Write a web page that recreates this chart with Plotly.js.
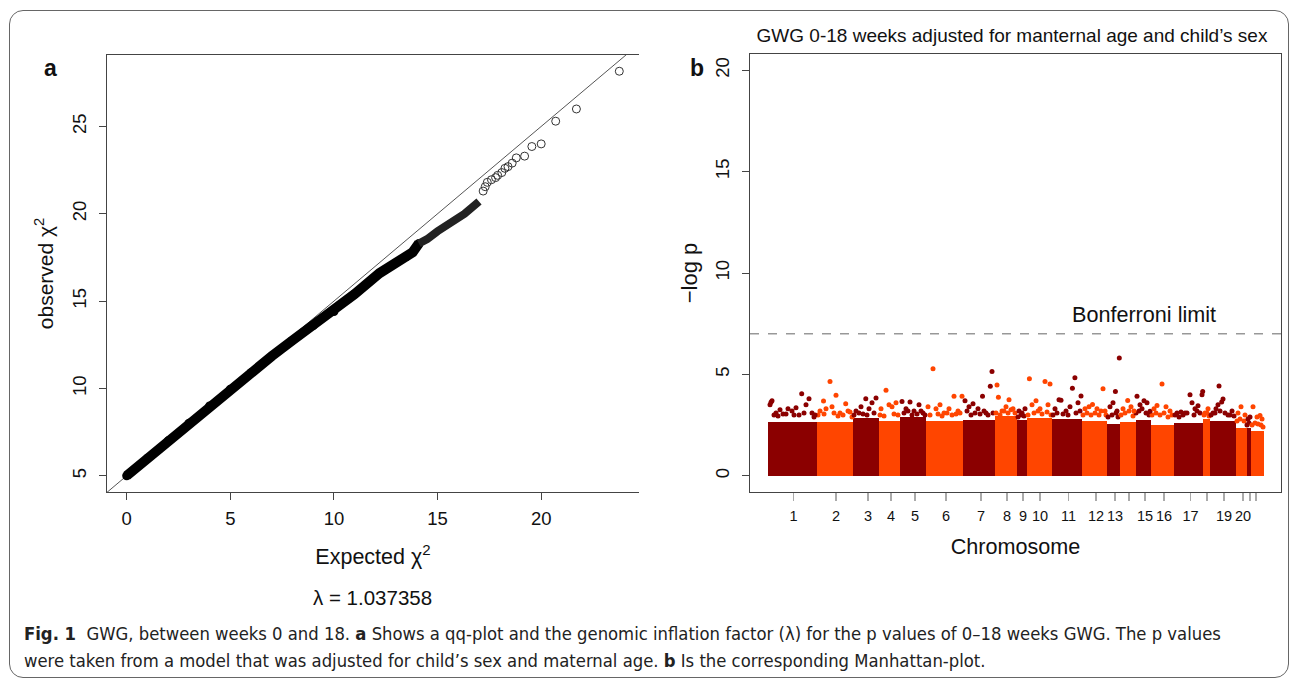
<!DOCTYPE html>
<html>
<head>
<meta charset="utf-8">
<script src="https://cdn.plot.ly/plotly-3.0.1.min.js"></script>
<style>
html,body{margin:0;padding:0;background:#fff;}
#wrap{position:relative;width:1292px;height:679px;overflow:hidden;}
#chart{position:absolute;left:0;top:0;width:1292px;height:679px;}
#frame{position:absolute;left:9px;top:10px;width:1280px;height:668px;border:1.3px solid #666;border-radius:14px;box-sizing:border-box;pointer-events:none;}
</style>
</head>
<body>
<div id="wrap"><div id="chart"></div><div id="frame"></div></div>
<script>
// ---------- Panel a: QQ plot ----------
const bandX = [0, 1, 2, 3, 4, 5, 6, 7, 8, 9, 10, 11, 12.2, 13, 13.5, 13.8, 14.1];
const bandY = [5.0, 6.0, 7.0, 8.0, 9.0, 9.95, 10.9, 11.85, 12.75, 13.6, 14.4, 15.4, 16.6, 17.2, 17.55, 17.8, 18.3];
const band2X = [14.1, 14.5, 15, 15.7, 16.3, 17.0];
const band2Y = [18.3, 18.55, 19.0, 19.5, 20.0, 20.7];
const tailX = [17.2, 17.3, 17.4, 17.6, 17.8, 17.9, 18.1, 18.25, 18.4, 18.6, 18.8, 19.2, 19.55, 20.0, 20.7, 21.7, 23.77];
const tailY = [21.3, 21.55, 21.8, 21.95, 22.07, 22.2, 22.36, 22.6, 22.7, 22.9, 23.2, 23.3, 23.85, 24.0, 25.3, 26.0, 28.16];
const refLineX = [-2, 26];
const refLineY = [3, 31];
const qqTicksX = [0, 5, 10, 15, 20];
const qqTicksY = [5, 10, 15, 20, 25];
const lambdaText = "λ = 1.037358";

// ---------- Panel b: Manhattan plot ----------
const chrNames = ['1','2','3','4','5','6','7','8','9','10','11','12','13','14','15','16','17','18','19','20','21','22'];
const chrStart = [0,49,85,110.5,132,158,195,226.5,248.7,258.6,284,314,339,352,367.5,383,406,435,442,468,478.5,483];
const chrEnd   = [49,85,110.5,132,158,195,226.5,248.7,258.6,284,314,339,352,367.5,383,406,435,442,468,478.5,483,495.5];
const chrTickPos = [25.6,68,100,123,147,178,213,239,255,272,300.5,328,347,377,396,422.5,456,475];
const chrTickText = ['1','2','3','4','5','6','7','8','9','10','11','12','13','15','16','17','19','20'];
const chrUnlabeledTicks = [361, 439, 482, 488];
const blockTop = [2.67,2.67,2.85,2.72,2.9,2.69,2.76,2.95,2.76,2.85,2.8,2.72,2.57,2.67,2.76,2.5,2.62,2.8,2.69,2.35,2.35,2.2];
// top SNPs
const snpChr = [
 1,1,1,1,1,1,1,1,1,1,1,1,1,1,1,
 2,2,2,2,2,2,2,2,2,
 3,3,3,3,3,3,
 4,4,4,4,4,
 5,5,5,5,5,5,
 6,6,6,6,6,6,6,6,6,
 7,7,7,7,7,7,7,7,
 8,8,8,8,8,8,
 9,9,9,
 10,10,10,10,10,10,10,
 11,11,11,11,11,11,11,11,11,
 12,12,12,12,12,12,
 13,13,13,13,13,
 14,14,14,14,
 15,15,15,15,15,
 16,16,16,16,16,
 17,17,17,17,17,17,17,17,17,
 18,18,
 19,19,19,19,19,19,19,19,
 20,20,20,
 21,21,
 22,22,22,22];
const snpPos = [
 2,3,4,8,12,15,20,24,28,31,33.7,38,41,44,47,
 52,55.5,58,62,64,68,72,77.7,82,
 88,93,97.8,101,104,108,
 113,118,121,124,128,
 134,138,142,146,151,155,
 160,165,168,172,176,181,186,190,194,
 197,201,205,210,214.5,218,222.3,224,
 229,230.4,234,238,241,245,
 251,254,257,
 261.4,264,268,272,277,280,282,
 287,291,293,298,302,304.4,306.9,310,313,
 317,321,324.5,329,335,337,
 342,345,347.4,349,351.3,
 355,359.7,363,366,
 369,372,376,379,382,
 386,389,394,398,402,
 409,413,417,422,424,427,430,434,434.7,
 437,440,
 445,448,450,451,453.7,455,460,464,
 470,473,477,
 480,482,
 485,489,492,494];
const snpLogP = [
 3.5,3.62,3.7,3.1,3.25,3.05,3.3,3.2,3.35,3.0,4.04,3.5,3.8,3.1,3.0,
 3.2,3.69,3.3,4.65,3.4,3.97,3.1,3.55,3.15,
 3.2,3.4,3.8,3.3,3.6,3.83,
 3.3,4.22,3.5,3.4,3.6,
 3.66,3.3,3.64,3.2,3.5,3.1,
 3.4,5.28,3.3,3.5,3.1,3.3,3.92,3.2,3.92,
 3.7,3.4,3.55,3.3,3.92,3.1,4.41,5.14,
 4.48,3.87,3.2,3.4,3.75,3.3,
 3.2,3.1,3.3,
 4.79,3.5,3.7,3.3,4.65,3.5,4.53,
 3.3,3.75,3.73,3.2,3.4,4.32,4.83,3.6,3.94,
 3.3,3.4,3.52,3.3,4.29,3.2,
 3.4,3.6,4.16,3.2,5.81,
 3.3,3.71,3.4,3.2,
 3.92,3.5,3.7,3.6,3.18,
 3.3,3.47,4.53,3.4,3.2,
 3.1,3.15,3.1,4.0,3.6,3.3,3.45,4.0,4.15,
 3.1,3.3,
 3.1,3.3,3.5,4.43,3.64,3.79,3.0,3.2,
 3.1,3.41,3.0,
 2.8,2.9,
 3.4,2.9,2.97,2.8];
// SNPs in the dense fringe just above each block
const fringeChr = [
 1,1,1,1,1,1, 2,2,2,2,2,2,2, 3,3,3,3,3, 4,4,4,4, 5,5,5,5,5,5, 6,6,6,6,6,6,6,
 7,7,7,7,7,7,7, 8,8,8,8,8,8, 9,9,9, 10,10,10,10,10,10, 11,11,11,11,11,11,
 12,12,12,12,12,12,12, 13,13,13,13, 14,14,14,14, 15,15,15,15,15, 16,16,16,16,16,16,
 17,17,17,17,17,17,17, 18,18,18, 19,19,19,19,19,19, 20,20,20, 21,21, 22,22,22,22,22];
const fringePos = [
 6,10,18,26,36,46, 50,56,66,70,75,80,84, 86,91,95,99,106, 112,116,126,130, 136,140,144,149,153,157,
 162,170,174,179,184,188,192, 199,203,207,212,216,220,225, 228,232,236,240,243,247, 250,253,256,
 260,266,270,274,279,283, 285,289,295,300,308,312, 315,319,323,327,331,333,338, 340,344,348,350,
 353,357,361,365, 368,371,374,378,381, 384,388,392,396,400,404, 407,411,415,419,426,429,432,
 436,439,441, 443,447,452,457,462,466, 469,472,476, 479,481, 484,487,490,493,495];
const fringeLogP = [
 3.0,2.95,3.05,3.0,3.1,2.9, 3.0,3.05,3.1,2.95,3.0,3.2,2.9, 3.0,3.1,3.05,3.0,3.1, 3.0,2.95,3.05,3.0,
 3.1,3.2,3.0,3.05,3.2,3.0, 3.0,3.05,2.95,3.1,3.0,3.05,3.1, 3.2,3.0,3.1,3.05,3.2,3.0,3.1,
 3.1,3.0,3.2,3.1,3.25,3.1, 2.9,3.0,2.95, 3.0,3.1,3.2,3.05,3.15,3.0, 3.0,3.1,3.05,3.0,3.1,3.2,
 3.0,3.1,3.0,3.1,3.0,3.2,3.0, 2.9,3.0,3.1,2.9, 3.0,3.1,3.2,2.95, 3.1,3.2,3.3,3.1,3.0,
 3.0,3.1,3.0,3.1,2.9,3.0, 3.0,2.9,3.0,3.1,3.0,3.2,3.1, 3.0,3.1,2.95, 3.0,3.1,3.2,3.1,3.0,2.95,
 2.7,2.8,2.7, 2.5,2.6, 2.5,2.6,2.55,2.5,2.4];
const bonferroni = 7.0;
const manTicksY = [0, 5, 10, 15, 20];

const DARK = '#8B0000', ORANGE = '#FF4500';
const chrColor = i => (i % 2 === 0 ? DARK : ORANGE);

const W = 1292, H = 679;
const px = v => v / W, py = v => 1 - v / H;
const FONT = '"Liberation Sans", Arial, Helvetica, sans-serif';
const CAPFONT = '"Liberation Sans Narrow", "DejaVu Sans Condensed", "Liberation Sans", sans-serif';

const traces = [
  {x: refLineX, y: refLineY, type: 'scatter', mode: 'lines', line: {color: '#555', width: 1},
   xaxis: 'x', yaxis: 'y', hoverinfo: 'skip'},
  {x: bandX, y: bandY, type: 'scatter', mode: 'lines+markers', line: {color: '#000', width: 10},
   marker: {color: '#000', size: 9}, xaxis: 'x', yaxis: 'y'},
  {x: band2X, y: band2Y, type: 'scatter', mode: 'lines', line: {color: '#222', width: 8},
   xaxis: 'x', yaxis: 'y'},
  {x: tailX, y: tailY, type: 'scatter', mode: 'markers',
   marker: {symbol: 'circle-open', size: 8, color: '#333', line: {width: 1}}, xaxis: 'x', yaxis: 'y'},
  {x: chrStart.map((s, i) => (s + chrEnd[i]) / 2), y: blockTop, width: chrStart.map((s, i) => chrEnd[i] - s),
   type: 'bar', marker: {color: chrNames.map((c, i) => chrColor(i)), line: {width: 0}},
   xaxis: 'x2', yaxis: 'y2', hoverinfo: 'skip'},
  {x: fringePos, y: fringeLogP, type: 'scatter', mode: 'markers',
   marker: {size: 5, color: fringeChr.map(c => chrColor(c - 1))}, xaxis: 'x2', yaxis: 'y2'},
  {x: snpPos, y: snpLogP, type: 'scatter', mode: 'markers',
   marker: {size: 5, color: snpChr.map(c => chrColor(c - 1))}, xaxis: 'x2', yaxis: 'y2'}
];

const axisBase = {showgrid: false, zeroline: false, showline: true, linecolor: '#444', linewidth: 1,
  ticks: 'outside', ticklen: 7, tickcolor: '#444', tickfont: {family: FONT, size: 18.5, color: '#111'},
  automargin: false, fixedrange: true};
const titleFont = size => ({family: FONT, size, color: '#111'});

const ann = (text, x, y, size, extra) => Object.assign({text, x: px(x), y: py(y), xref: 'paper', yref: 'paper',
  showarrow: false, xanchor: 'center', yanchor: 'middle', font: {family: FONT, size, color: '#111'}}, extra || {});

const layout = {
  width: W, height: H, margin: {l: 0, r: 0, t: 0, b: 0}, paper_bgcolor: '#fff', plot_bgcolor: '#fff',
  showlegend: false, bargap: 0,
  title: {text: 'GWG 0-18 weeks adjusted for manternal age and child’s sex', x: px(1012), xref: 'paper',
    xanchor: 'center', y: py(35), yref: 'container', yanchor: 'middle', font: {family: FONT, size: 19, color: '#111'}},
  xaxis: Object.assign({}, axisBase, {domain: [px(107), px(639)], range: [-0.95, 24.72], tickvals: qqTicksX,
    mirror: true, anchor: 'y', ticklabelstandoff: 3,
    title: {text: 'Expected χ<sup>2</sup>', font: titleFont(21.5), standoff: 20}}),
  yaxis: Object.assign({}, axisBase, {domain: [py(492), py(55)], range: [4.07, 29.09], tickvals: qqTicksY,
    tickangle: -90, anchor: 'x', ticklabelstandoff: 6,
    title: {text: 'observed χ<sup>2</sup>', font: titleFont(21), standoff: 9}}),
  xaxis2: Object.assign({}, axisBase, {domain: [px(750), px(1281)], range: [-18, 513], tickvals: chrTickPos,
    ticktext: chrTickText, tickcolor: '#aaa', tickwidth: 1.5, ticklen: 8, mirror: true, anchor: 'y2',
    tickfont: {family: FONT, size: 14.5, color: '#111'}, ticklabelstandoff: 3,
    minor: {tickmode: 'array', tickvals: chrUnlabeledTicks, ticks: 'outside', ticklen: 8, tickcolor: '#aaa', tickwidth: 1.5, showgrid: false},
    title: {text: 'Chromosome', font: titleFont(21.6), standoff: 15}}),
  yaxis2: Object.assign({}, axisBase, {domain: [py(492), py(54)], range: [-0.8, 20.8], tickvals: manTicksY,
    tickangle: -90, mirror: true, anchor: 'x2', ticklabelstandoff: 6,
    title: {text: '−log p', font: titleFont(22), standoff: 7}}),
  shapes: [
    {type: 'line', xref: 'x2 domain', x0: 0, x1: 1, yref: 'y2', y0: bonferroni, y1: bonferroni,
     line: {color: '#666', width: 1, dash: 'dash'}}
  ],
  annotations: [
    ann('<b>a</b>', 50, 68, 23),
    ann('<b>b</b>', 697, 68, 23),
    ann(lambdaText, 372, 597, 20.5),
    ann('Bonferroni limit', 1144, 314, 21.6),
    ann('<b>Fig. 1</b>  GWG, between weeks 0 and 18. <b>a</b> Shows a qq-plot and the genomic inflation factor (λ) for the p values of 0–18 weeks GWG. The p values',
        22, 633, 18.3, {xanchor: 'left', font: {family: CAPFONT, size: 18.3, color: '#222'}}),
    ann('were taken from a model that was adjusted for child’s sex and maternal age. <b>b</b> Is the corresponding Manhattan-plot.',
        22, 660, 18.3, {xanchor: 'left', font: {family: CAPFONT, size: 18.3, color: '#222'}})
  ]
};

Plotly.newPlot('chart', traces, layout, {staticPlot: true, displayModeBar: false});
</script>
</body>
</html>
